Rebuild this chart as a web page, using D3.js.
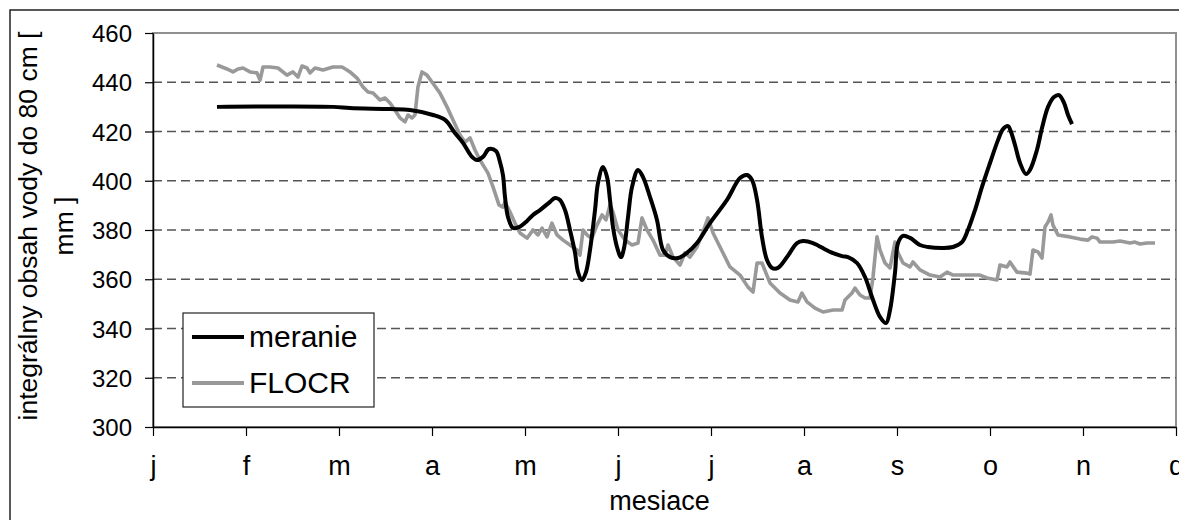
<!DOCTYPE html>
<html>
<head>
<meta charset="utf-8">
<script src="https://cdn.jsdelivr.net/npm/d3@7"></script>
<style>
  html, body { margin: 0; padding: 0; background: #fff; }
  svg { display: block; font-family: "Liberation Sans", Arial, sans-serif; }
</style>
</head>
<body>
<svg id="chart" width="1179" height="520"></svg>
<script>
// ---- data ----
const monthLabels = ["j","f","m","a","m","j","j","a","s","o","n","d"];
const yTicks = [300,320,340,360,380,400,420,440,460];

// meranie (measured) : x in months from start of year, value in mm
const meranieX = [0.688,1.935,2.118,2.548,2.763,3.011,3.140,3.247,3.333,3.430,3.484,3.548,3.613,3.688,3.731,3.763,3.785,3.817,3.871,3.935,4.022,4.086,4.161,4.269,4.323,4.376,4.430,4.484,4.538,4.570,4.613,4.656,4.699,4.753,4.785,4.839,4.882,4.914,4.946,4.989,5.032,5.065,5.108,5.151,5.215,5.269,5.344,5.419,5.484,5.559,5.645,5.742,5.849,5.989,6.172,6.312,6.387,6.441,6.495,6.548,6.602,6.656,6.720,6.817,6.925,6.989,7.097,7.280,7.409,7.473,7.570,7.656,7.731,7.817,7.882,7.925,7.978,8.011,8.065,8.140,8.247,8.333,8.495,8.602,8.699,8.763,8.839,8.914,9.000,9.086,9.140,9.194,9.226,9.269,9.323,9.387,9.430,9.505,9.559,9.624,9.688,9.742,9.796,9.839,9.882];
const meranieY = [430.0,430.0,429.5,429.1,428.7,426.7,424.7,419.4,415.4,409.7,408.4,409.7,412.9,412.1,407.6,402.3,393.4,385.3,380.8,381.2,383.7,386.1,388.1,391.4,393.0,392.2,388.1,380.0,370.7,362.9,359.7,362.9,371.9,388.1,399.1,405.6,401.5,392.2,381.2,373.1,369.0,372.7,385.3,397.5,404.4,401.5,393.4,384.1,371.9,369.0,368.6,370.7,374.7,382.8,392.2,401.1,402.3,400.3,392.2,377.2,367.8,364.6,364.6,369.0,374.7,375.5,374.7,371.1,369.4,369.0,366.6,360.9,352.8,344.7,342.2,347.5,362.5,374.7,377.6,376.8,373.9,373.1,372.7,373.1,375.1,380.0,388.1,397.5,407.2,416.5,421.0,422.2,419.8,414.5,407.2,402.7,404.4,412.5,421.4,430.0,434.0,434.8,431.6,426.7,423.0];

// FLOCR (model)
const flocrX = [0.688,0.796,0.860,0.914,0.968,1.043,1.118,1.151,1.183,1.258,1.344,1.441,1.505,1.559,1.602,1.656,1.688,1.742,1.828,1.935,2.032,2.086,2.118,2.194,2.258,2.312,2.366,2.441,2.495,2.548,2.602,2.656,2.710,2.742,2.785,2.817,2.849,2.892,2.946,3.000,3.086,3.161,3.226,3.301,3.355,3.409,3.462,3.516,3.602,3.656,3.720,3.763,3.785,3.839,3.892,3.946,4.022,4.086,4.140,4.183,4.237,4.290,4.344,4.409,4.484,4.559,4.591,4.624,4.667,4.720,4.774,4.828,4.871,4.914,4.946,5.000,5.075,5.151,5.215,5.258,5.312,5.376,5.452,5.505,5.538,5.591,5.667,5.720,5.774,5.849,5.914,5.968,6.022,6.097,6.204,6.312,6.398,6.452,6.495,6.548,6.634,6.742,6.849,6.935,6.978,7.032,7.118,7.204,7.312,7.409,7.441,7.516,7.548,7.602,7.656,7.710,7.742,7.785,7.817,7.871,7.925,7.978,8.011,8.065,8.140,8.172,8.247,8.355,8.462,8.538,8.602,8.753,8.892,8.968,9.075,9.108,9.183,9.215,9.290,9.398,9.430,9.462,9.516,9.559,9.591,9.624,9.656,9.677,9.731,9.860,9.968,10.054,10.097,10.151,10.183,10.323,10.398,10.505,10.559,10.613,10.688,10.774];
const flocrY = [447.0,445.4,444.2,445.4,445.8,444.2,443.8,440.9,446.2,446.2,445.8,442.9,444.2,442.1,446.6,445.8,443.8,445.8,445.0,446.2,446.2,445.0,444.2,441.7,438.1,436.0,435.6,432.8,433.6,431.6,428.7,425.5,423.9,426.7,425.5,426.7,438.1,444.2,442.9,440.1,435.6,430.0,424.7,418.6,415.7,417.4,412.5,408.4,403.1,397.5,390.2,389.3,391.4,387.3,382.8,378.8,376.7,380.0,378.0,380.8,377.2,382.8,378.0,375.9,373.9,371.9,369.8,380.0,378.0,376.7,382.0,386.1,384.1,390.2,387.3,380.0,375.9,373.9,374.7,384.9,380.0,375.9,369.8,369.8,373.9,369.0,365.8,370.7,369.0,373.1,379.2,384.9,378.8,373.1,365.0,361.7,356.8,354.8,366.6,366.6,358.5,354.4,351.6,350.8,354.4,350.8,348.3,346.7,347.5,347.5,351.6,354.4,356.4,353.6,352.4,352.4,360.9,377.2,371.9,366.6,364.6,375.1,370.7,366.6,365.0,367.0,363.8,361.7,360.9,362.9,361.7,361.7,361.7,360.5,359.7,365.8,365.0,367.0,362.9,362.5,362.1,371.9,371.1,368.6,381.2,383.2,386.1,382.0,378.0,377.2,376.3,375.9,377.2,376.7,375.1,375.1,375.5,374.7,375.1,374.3,374.7,374.7];

const seriesNames = ["meranie","FLOCR"];
const seriesColors = ["#000000","#999999"];

// ---- layout ----
const svg = d3.select("#chart");
const pL = 153, pR = 1176, pT = 33, pB = 427;

const x = d3.scaleLinear().domain([0, 11]).range([pL, pR]);
const y = d3.scaleLinear().domain([300, 460]).range([pB, pT]);

// outer chart border
svg.append("rect").attr("x", 10).attr("y", 10).attr("width", 1220).attr("height", 560)
  .attr("fill", "none").attr("stroke", "#222").attr("stroke-width", 1.5);

// plot-area frame (gray top/right)
svg.append("rect").attr("x", pL).attr("y", pT).attr("width", pR - pL).attr("height", pB - pT)
  .attr("fill", "none").attr("stroke", "#909090").attr("stroke-width", 2);

// gridlines
svg.append("g").selectAll("line").data(yTicks.filter(d => d > 300 && d < 460)).join("line")
  .attr("x1", pL).attr("x2", pR).attr("y1", d => y(d)).attr("y2", d => y(d))
  .attr("stroke", "#555").attr("stroke-width", 1.3).attr("stroke-dasharray", "9,5");

// y axis
const yAxis = svg.append("g").attr("transform", `translate(${pL},0)`)
  .call(d3.axisLeft(y).tickValues(yTicks).tickSize(8).tickPadding(13).tickSizeOuter(0));
yAxis.select(".domain").attr("stroke", "#000").attr("stroke-width", 1.5);
yAxis.selectAll(".tick line").attr("stroke", "#000").attr("stroke-width", 1.2);
yAxis.selectAll(".tick text").attr("font-size", 24).attr("fill", "#000")
  .attr("font-family", "Liberation Sans, Arial, sans-serif").attr("dy", "0.36em");

// x axis
const xAxis = svg.append("g").attr("transform", `translate(0,${pB})`)
  .call(d3.axisBottom(x).tickValues(d3.range(12)).tickFormat(i => monthLabels[i])
    .tickSize(9).tickPadding(20).tickSizeOuter(0));
xAxis.select(".domain").attr("stroke", "#000").attr("stroke-width", 1.5);
xAxis.selectAll(".tick line").attr("stroke", "#000").attr("stroke-width", 1.2);
xAxis.selectAll(".tick text").attr("font-size", 27).attr("fill", "#000")
  .attr("font-family", "Liberation Sans, Arial, sans-serif").attr("dy", "0.71em");

// axis titles
svg.append("text").attr("x", (pL + pR) / 2 - 5).attr("y", 510)
  .attr("text-anchor", "middle").attr("font-size", 27).attr("fill", "#000").text("mesiace");

const yTitle = svg.append("text").attr("transform", "translate(0,226) rotate(-90)")
  .attr("text-anchor", "middle").attr("font-size", 26.5).attr("fill", "#000");
yTitle.append("tspan").attr("x", 0).attr("y", 37).text("integrálny obsah vody do 80 cm [");
yTitle.append("tspan").attr("x", 0).attr("y", 73).text("mm ]");

// lines
const meranie = meranieX.map((d, i) => [d, meranieY[i]]);
const flocr = flocrX.map((d, i) => [d, flocrY[i]]);

svg.append("path").datum(flocr)
  .attr("d", d3.line().x(d => x(d[0])).y(d => y(d[1])))
  .attr("fill", "none").attr("stroke", seriesColors[1]).attr("stroke-width", 3.6)
  .attr("stroke-linejoin", "round");

svg.append("path").datum(meranie)
  .attr("d", d3.line().x(d => x(d[0])).y(d => y(d[1])).curve(d3.curveCatmullRom.alpha(0.5)))
  .attr("fill", "none").attr("stroke", seriesColors[0]).attr("stroke-width", 4)
  .attr("stroke-linejoin", "round");

// legend
const lg = svg.append("g");
lg.append("rect").attr("x", 183).attr("y", 313).attr("width", 191).attr("height", 94)
  .attr("fill", "#fff").attr("stroke", "#222").attr("stroke-width", 1.2);
seriesNames.forEach((name, i) => {
  const yy = 337 + i * 46;
  lg.append("line").attr("x1", 192).attr("x2", 244).attr("y1", yy).attr("y2", yy)
    .attr("stroke", seriesColors[i]).attr("stroke-width", 4);
  lg.append("text").attr("x", 249).attr("y", yy + 10).attr("font-size", 30).attr("fill", "#000").text(name);
});
</script>
</body>
</html>
